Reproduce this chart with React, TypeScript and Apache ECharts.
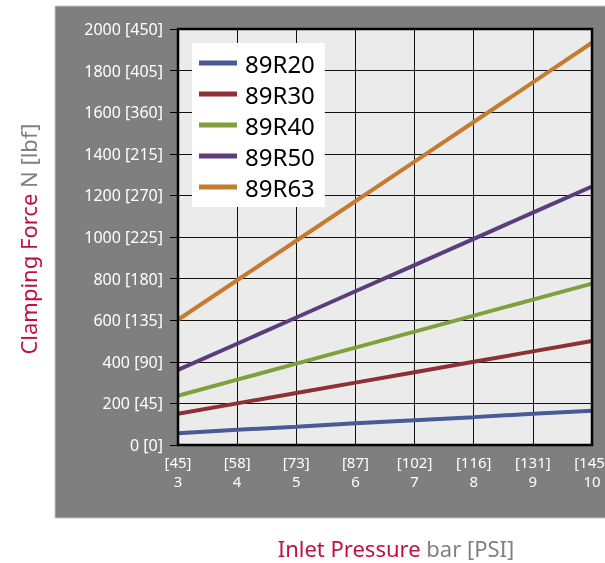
import React, { useEffect, useRef } from "react";
import * as echarts from "echarts";

const pressureBar = [3, 4, 5, 6, 7, 8, 9, 10];
const pressurePsi = ["45", "58", "73", "87", "102", "116", "131", "145"];
const yTickLabels = ["0 [0]", "200 [45]", "400 [90]", "600 [135]", "800 [180]", "1000 [225]", "1200 [270]", "1400 [215]", "1600 [360]", "1800 [405]", "2000 [450]"];

const seriesNames = ["89R20", "89R30", "89R40", "89R50", "89R63"];
const r20 = [57, 73, 88, 104, 119, 134, 150, 165];
const r30 = [150, 200, 250, 300, 350, 400, 450, 500];
const r40 = [237, 314, 391, 468, 545, 622, 699, 776];
const r50 = [361, 487, 613, 739, 865, 991, 1117, 1243];
const r63 = [602, 792, 982, 1172, 1362, 1553, 1743, 1934];
const seriesValues = [r20, r30, r40, r50, r63];
const seriesColors = ["#4a5a96", "#8e3136", "#7fa03c", "#5c3d7b", "#c47c30"];

const FONT = "Noto Sans";

export default function App() {
  const ref = useRef<HTMLDivElement>(null);
  useEffect(() => {
    if (!ref.current) return;
    const chart = echarts.init(ref.current, undefined, { renderer: "svg" });
    chart.setOption({
      animation: false,
      textStyle: { fontFamily: FONT },
      graphic: [
        {
          type: "rect",
          z: -10,
          shape: { x: 55, y: 6, width: 560, height: 512 },
          style: { fill: "#7f7f7f", stroke: "#c8c8c8", lineWidth: 1 },
        },
        {
          type: "text",
          x: 28,
          y: 239,
          rotation: Math.PI / 2,
          style: {
            text: "{a|Clamping Force }{b|N [lbf]}",
            align: "center",
            verticalAlign: "middle",
            rich: {
              a: { fill: "#c0103f", fontSize: 22, fontFamily: FONT },
              b: { fill: "#808080", fontSize: 22, fontFamily: FONT },
            },
          },
        },
        {
          type: "text",
          x: 396,
          y: 548,
          style: {
            text: "{a|Inlet Pressure }{b|bar [PSI]}",
            align: "center",
            verticalAlign: "middle",
            rich: {
              a: { fill: "#c0103f", fontSize: 22, fontFamily: FONT },
              b: { fill: "#808080", fontSize: 22, fontFamily: FONT },
            },
          },
        },
      ],
      grid: {
        left: 178,
        top: 29,
        right: 13,
        bottom: 118,
        outerBoundsMode: "none",
        containLabel: false,
        show: true,
        backgroundColor: "#ebebeb",
        borderColor: "#000",
        borderWidth: 0,
      },
      legend: {
        orient: "vertical",
        left: 192,
        top: 43,
        backgroundColor: "#fff",
        padding: [8, 10, 8, 7],
        itemWidth: 38,
        itemHeight: 5,
        itemGap: 7,
        icon: "rect",
        textStyle: { fontSize: 24, lineHeight: 24, color: "#000", fontFamily: FONT, padding: [0, 0, 0, 3] },
        data: seriesNames,
      },
      xAxis: {
        type: "value",
        min: 3,
        max: 10,
        interval: 1,
        axisLine: { show: false },
        axisTick: { show: false },
        splitLine: { show: true, lineStyle: { color: "#111", width: 1 } },
        axisLabel: {
          color: "#fff",
          fontSize: 15,
          lineHeight: 19,
          margin: 7,
          fontFamily: FONT,
          formatter: (v: number) => {
            const i = pressureBar.indexOf(v);
            return i >= 0 ? `[${pressurePsi[i]}]\n${v}` : "";
          },
        },
      },
      yAxis: {
        type: "value",
        min: 0,
        max: 2000,
        interval: 200,
        axisLine: { show: false },
        axisTick: { show: true, length: 8, lineStyle: { color: "#000", width: 1 } },
        splitLine: { show: true, lineStyle: { color: "#111", width: 1 } },
        axisLabel: {
          color: "#fff",
          fontSize: 16,
          margin: 15,
          fontFamily: FONT,
          formatter: (v: number) => yTickLabels[Math.round(v / 200)] ?? "",
        },
      },
      series: seriesNames.map((name, k) => ({
        name,
        type: "line",
        showSymbol: false,
        symbol: "none",
        z: 4,
        lineStyle: { width: 4, color: seriesColors[k] },
        itemStyle: { color: seriesColors[k] },
        data: pressureBar.map((x, i) => [x, seriesValues[k][i]]),
      })),
    });
    const p1 = chart.convertToPixel({ gridIndex: 0 }, [3, 2000]) as number[];
    const p2 = chart.convertToPixel({ gridIndex: 0 }, [10, 0]) as number[];
    chart.setOption({
      graphic: [
        {},
        {},
        {},
        {
          type: "rect",
          z: 10,
          shape: { x: p1[0], y: p1[1], width: p2[0] - p1[0], height: p2[1] - p1[1] },
          style: { fill: "none", stroke: "#000", lineWidth: 2.5 },
        },
      ],
    });
    return () => chart.dispose();
  }, []);
  return <div ref={ref} style={{ position: "fixed", left: 0, top: 0, width: 605, height: 563 }} />;
}
